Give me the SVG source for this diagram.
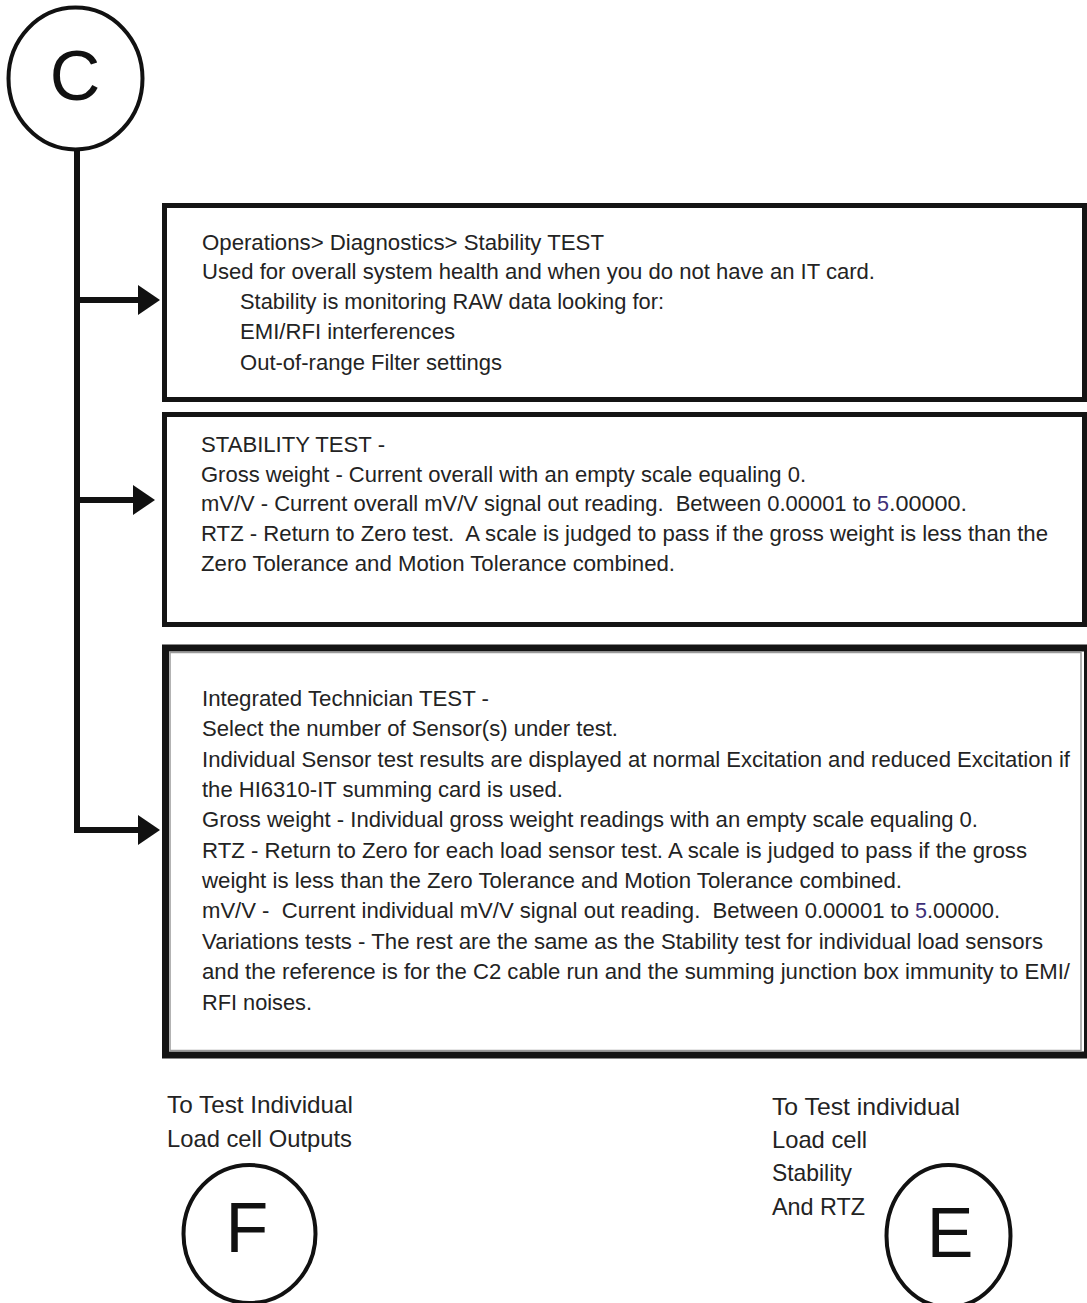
<svg xmlns="http://www.w3.org/2000/svg" width="1087" height="1303" viewBox="0 0 1087 1303" xml:space="preserve">
<style>
  .bg { fill: #ffffff; }
  .circ { fill: #ffffff; stroke: #111111; stroke-width: 4; }
  .letter { font-family: "Liberation Sans", Arial, sans-serif; font-size: 70px; fill: #111111; text-anchor: middle; }
  .box { fill: #ffffff; stroke: #141414; stroke-width: 5; }
  .box3 { fill: #ffffff; stroke: #141414; stroke-width: 7; }
  .inner { fill: none; stroke: #9a9a9a; stroke-width: 1.5; }
  .t { font-family: "Liberation Sans", Arial, sans-serif; font-size: 22px; fill: #232323; white-space: pre; }
  .lbl { font-family: "Liberation Sans", Arial, sans-serif; font-size: 24px; fill: #232323; }
  .conn { fill: none; stroke: #111111; stroke-width: 6; }
  .num5 { fill: #3d2f78; }
</style>
<defs>
  <marker id="arrow" markerUnits="userSpaceOnUse" markerWidth="24" markerHeight="32" refX="7" refY="15" orient="auto">
    <path d="M0,0 L22,15 L0,30 Z" fill="#111111"/>
  </marker>
</defs>
<rect class="bg" x="0" y="0" width="1087" height="1303"/>

<g id="connectors">
  <path class="conn" d="M77,148 V830 H145" marker-end="url(#arrow)"/>
  <path class="conn" d="M77,300 H145" marker-end="url(#arrow)"/>
  <path class="conn" d="M77,500 H140" marker-end="url(#arrow)"/>
</g>

<g id="node-C">
  <ellipse class="circ" cx="75.5" cy="78.5" rx="67" ry="71"/>
  <text class="letter" x="75" y="100">C</text>
</g>

<g id="node-stability-menu">
  <rect class="box" x="164.5" y="205.5" width="920" height="194"/>
  <text class="t" x="202" y="250" textLength="402" lengthAdjust="spacingAndGlyphs">Operations&gt; Diagnostics&gt; Stability TEST</text>
  <text class="t" x="202" y="279" textLength="673" lengthAdjust="spacingAndGlyphs">Used for overall system health and when you do not have an IT card.</text>
  <text class="t" x="240" y="309" textLength="424" lengthAdjust="spacingAndGlyphs">Stability is monitoring RAW data looking for:</text>
  <text class="t" x="240" y="339" textLength="215" lengthAdjust="spacingAndGlyphs">EMI/RFI interferences</text>
  <text class="t" x="240" y="370" textLength="262" lengthAdjust="spacingAndGlyphs">Out-of-range Filter settings</text>
</g>

<g id="node-stability-test">
  <rect class="box" x="164.5" y="414.5" width="920" height="210"/>
  <text class="t" x="201" y="452" textLength="184" lengthAdjust="spacingAndGlyphs">STABILITY TEST -</text>
  <text class="t" x="201" y="482" textLength="605" lengthAdjust="spacingAndGlyphs">Gross weight - Current overall with an empty scale equaling 0.</text>
  <text class="t" x="201" y="511" textLength="670" lengthAdjust="spacingAndGlyphs">mV/V - Current overall mV/V signal out reading.  Between 0.00001 to</text>
  <text class="t num5" x="877" y="511" textLength="12" lengthAdjust="spacingAndGlyphs">5</text>
  <text class="t" x="889" y="511" textLength="78" lengthAdjust="spacingAndGlyphs">.00000.</text>
  <text class="t" x="201" y="541" textLength="847" lengthAdjust="spacingAndGlyphs">RTZ - Return to Zero test.  A scale is judged to pass if the gross weight is less than the</text>
  <text class="t" x="201" y="571" textLength="474" lengthAdjust="spacingAndGlyphs">Zero Tolerance and Motion Tolerance combined.</text>
</g>

<g id="node-it-test">
  <rect class="box3" x="165.5" y="648" width="922" height="407"/>
  <rect class="inner" x="170" y="652.5" width="911" height="398"/>
  <text class="t" x="202" y="706" textLength="287" lengthAdjust="spacingAndGlyphs">Integrated Technician TEST -</text>
  <text class="t" x="202" y="736" textLength="416" lengthAdjust="spacingAndGlyphs">Select the number of Sensor(s) under test.</text>
  <text class="t" x="202" y="767" textLength="868" lengthAdjust="spacingAndGlyphs">Individual Sensor test results are displayed at normal Excitation and reduced Excitation if</text>
  <text class="t" x="202" y="797" textLength="361" lengthAdjust="spacingAndGlyphs">the HI6310-IT summing card is used.</text>
  <text class="t" x="202" y="827" textLength="776" lengthAdjust="spacingAndGlyphs">Gross weight - Individual gross weight readings with an empty scale equaling 0.</text>
  <text class="t" x="202" y="858" textLength="825" lengthAdjust="spacingAndGlyphs">RTZ - Return to Zero for each load sensor test. A scale is judged to pass if the gross</text>
  <text class="t" x="202" y="888" textLength="700" lengthAdjust="spacingAndGlyphs">weight is less than the Zero Tolerance and Motion Tolerance combined.</text>
  <text class="t" x="202" y="918" textLength="707" lengthAdjust="spacingAndGlyphs">mV/V -  Current individual mV/V signal out reading.  Between 0.00001 to</text>
  <text class="t num5" x="915" y="918" textLength="12" lengthAdjust="spacingAndGlyphs">5</text>
  <text class="t" x="927" y="918" textLength="73" lengthAdjust="spacingAndGlyphs">.00000.</text>
  <text class="t" x="202" y="949" textLength="841" lengthAdjust="spacingAndGlyphs">Variations tests - The rest are the same as the Stability test for individual load sensors</text>
  <text class="t" x="202" y="979" textLength="868" lengthAdjust="spacingAndGlyphs">and the reference is for the C2 cable run and the summing junction box immunity to EMI/</text>
  <text class="t" x="202" y="1010" textLength="110" lengthAdjust="spacingAndGlyphs">RFI noises.</text>
</g>

<g id="node-F">
  <text class="lbl" x="167" y="1113" textLength="186" lengthAdjust="spacingAndGlyphs">To Test Individual</text>
  <text class="lbl" x="167" y="1147" textLength="185" lengthAdjust="spacingAndGlyphs">Load cell Outputs</text>
  <ellipse class="circ" cx="249.5" cy="1234" rx="66" ry="69"/>
  <text class="letter" x="247" y="1252">F</text>
</g>

<g id="node-E">
  <text class="lbl" x="772" y="1115" textLength="188" lengthAdjust="spacingAndGlyphs">To Test individual</text>
  <text class="lbl" x="772" y="1148" textLength="95" lengthAdjust="spacingAndGlyphs">Load cell</text>
  <text class="lbl" x="772" y="1181" textLength="80" lengthAdjust="spacingAndGlyphs">Stability</text>
  <text class="lbl" x="772" y="1215" textLength="93" lengthAdjust="spacingAndGlyphs">And RTZ</text>
  <ellipse class="circ" cx="948.5" cy="1236" rx="62" ry="71"/>
  <text class="letter" x="950" y="1257">E</text>
</g>
</svg>
